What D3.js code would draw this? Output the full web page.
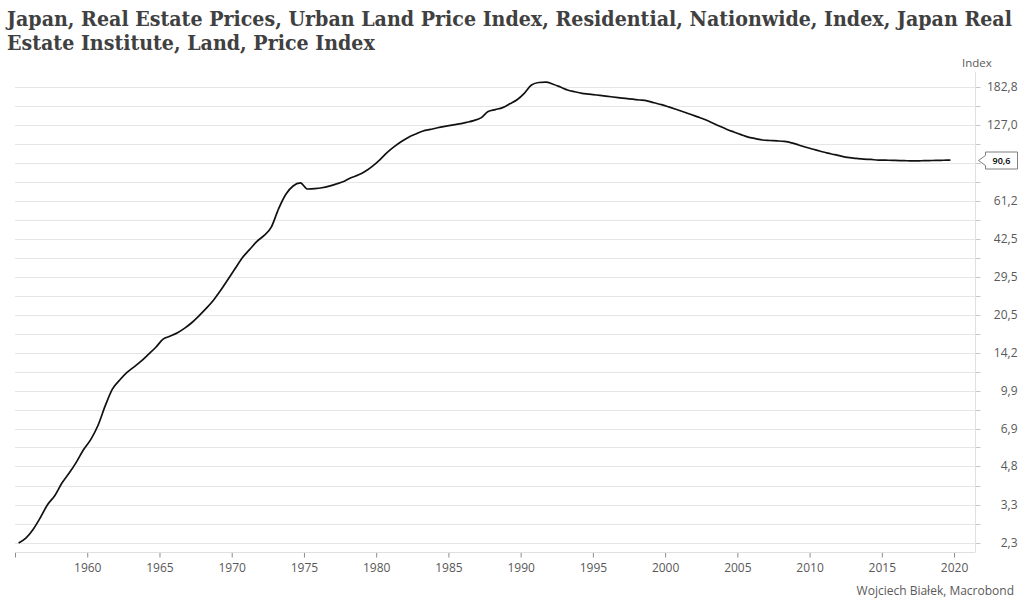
<!DOCTYPE html>
<html><head><meta charset="utf-8">
<script src="https://cdn.jsdelivr.net/npm/d3@7"></script>
<style>body{margin:0;background:#fff;} svg{display:block;}</style>
</head><body><svg id="c" width="1024" height="608"></svg>
<script>
const titleLines = [
  "Japan, Real Estate Prices, Urban Land Price Index, Residential, Nationwide, Index, Japan Real",
  "Estate Institute, Land, Price Index"
];
const dates = [
"1955-03","1955-09","1956-03","1956-09","1957-03","1957-09","1958-03","1958-09","1959-03","1959-09",
"1960-03","1960-09","1961-03","1961-09","1962-03","1962-09","1963-03","1963-09","1964-03","1964-09",
"1965-03","1965-09","1966-03","1966-09","1967-03","1967-09","1968-03","1968-09","1969-03","1969-09",
"1970-03","1970-09","1971-03","1971-09","1972-03","1972-09","1973-03","1973-09","1974-03","1974-09",
"1975-03","1975-09","1976-03","1976-09","1977-03","1977-09","1978-03","1978-09","1979-03","1979-09",
"1980-03","1980-09","1981-03","1981-09","1982-03","1982-09","1983-03","1983-09","1984-03","1984-09",
"1985-03","1985-09","1986-03","1986-09","1987-03","1987-09","1988-03","1988-09","1989-03","1989-09",
"1990-03","1990-09","1991-03","1991-09","1992-03","1992-09","1993-03","1993-09","1994-03","1994-09",
"1995-03","1995-09","1996-03","1996-09","1997-03","1997-09","1998-03","1998-09","1999-03","1999-09",
"2000-03","2000-09","2001-03","2001-09","2002-03","2002-09","2003-03","2003-09","2004-03","2004-09",
"2005-03","2005-09","2006-03","2006-09","2007-03","2007-09","2008-03","2008-09","2009-03","2009-09",
"2010-03","2010-09","2011-03","2011-09","2012-03","2012-09","2013-03","2013-09","2014-03","2014-09",
"2015-03","2015-09","2016-03","2016-09","2017-03","2017-09","2018-03","2018-09","2019-03","2019-09"
];
const values = [
2.30,2.41,2.62,2.93,3.32,3.62,4.09,4.50,5.00,5.64,
6.22,7.12,8.59,10.09,10.99,11.82,12.47,13.19,14.08,15.05,
16.27,16.75,17.29,18.08,19.08,20.39,21.89,23.70,26.04,28.88,
32.1,35.6,38.5,41.6,44.0,47.8,56.9,65.3,70.7,72.8,
68.7,68.9,69.5,70.6,72.1,73.8,76.5,78.5,81.4,85.6,
90.9,97.4,103.1,108.3,113.0,116.5,119.9,121.7,123.6,125.3,
126.9,128.3,130.2,132.4,135.9,144.5,147.2,150.0,155.6,161.8,
172.1,186.4,190.9,191.6,187.8,182.8,177.6,174.6,172.1,170.8,
169.3,168.0,166.5,165.1,163.9,162.6,161.4,160.0,157.1,154.3,
151.0,147.6,144.2,140.7,137.2,133.8,129.8,125.7,121.9,118.7,
115.7,113.0,111.4,109.9,109.4,109.0,108.4,107.0,104.8,102.5,
100.6,98.7,96.9,95.5,93.9,92.8,92.1,91.5,91.2,90.7,
90.6,90.4,90.2,90.1,90.0,90.1,90.2,90.4,90.5,90.6
];
const yTickValues = [2.3, 3.3, 4.8, 6.9, 9.9, 14.2, 20.5, 29.5, 42.5, 61.2, 88.1, 127.0, 182.8];
const hiddenTickLabels = [88.1];
const xTickYears = [1955, 1960, 1965, 1970, 1975, 1980, 1985, 1990, 1995, 2000, 2005, 2010, 2015, 2020];
const unlabeledYears = [1955];
const unitLabel = "Index";
const sourceText = "Wojciech Białek, Macrobond";

const svg = d3.select("#c");
const plotL = 15, plotR = 975, plotTop = 72, axisY = 552;

const toDecimal = s => { const [yy, mm] = s.split("-").map(Number); return yy + mm / 12; };
const data = dates.map((d, i) => ({ t: toDecimal(d), v: values[i] }));

const x = d3.scaleLinear().domain([1955, 2021.45]).range([plotL, plotR]);
const y = d3.scaleLog().domain([2.3, 182.8]).range([543, 87]);

const minor = [];
for (let i = 0; i < yTickValues.length - 1; i++) minor.push(Math.sqrt(yTickValues[i] * yTickValues[i + 1]));
const allLevels = yTickValues.concat(minor).sort((a, b) => a - b);

svg.append("g").selectAll("line").data(allLevels).join("line")
  .attr("x1", plotL).attr("x2", plotR)
  .attr("y1", d => Math.round(y(d)) + 0.5).attr("y2", d => Math.round(y(d)) + 0.5)
  .attr("stroke", "#e6e6e6").attr("stroke-width", 1);

const fmt = d => d3.format(".1f")(d).replace(".", ",");
const yAxis = d3.axisRight(y).tickValues(allLevels).tickSize(5)
  .tickFormat(d => (yTickValues.includes(d) && !hiddenTickLabels.includes(d)) ? fmt(d) : "");
const gy = svg.append("g").attr("transform", `translate(${plotR + 0.5},0)`).call(yAxis);
gy.select(".domain").remove();
gy.selectAll(".tick").attr("transform", d => `translate(0,${Math.round(y(d)) + 0.5})`);
gy.selectAll(".tick line").attr("stroke", "#c8c8c8");
gy.selectAll(".tick text").attr("x", 42).attr("text-anchor", "end")
  .attr("fill", "#595959").style("font-family", "'Open Sans', 'Noto Sans', sans-serif").style("font-size", "12px");
svg.append("line").attr("x1", plotR + 0.5).attr("x2", plotR + 0.5).attr("y1", plotTop).attr("y2", axisY)
  .attr("stroke", "#e0e0e0");

const xAxis = d3.axisBottom(x).tickValues(xTickYears).tickSize(5)
  .tickFormat(d => unlabeledYears.includes(d) ? "" : String(d));
const gx = svg.append("g").attr("transform", `translate(0,${axisY + 0.5})`).call(xAxis);
gx.select(".domain").remove();
gx.selectAll(".tick line").attr("stroke", "#8c8c8c");
gx.selectAll(".tick text").attr("y", 11).attr("fill", "#595959")
  .style("font-family", "'Open Sans', 'Noto Sans', sans-serif").style("font-size", "12px");
svg.append("line").attr("x1", plotL).attr("x2", plotR + 0.5).attr("y1", axisY + 0.5).attr("y2", axisY + 0.5)
  .attr("stroke", "#e0e0e0");

const line = d3.line().x(d => x(d.t)).y(d => y(d.v)).curve(d3.curveMonotoneX);
svg.append("path").datum(data).attr("d", line)
  .attr("fill", "none").attr("stroke", "#111").attr("stroke-width", 1.7).attr("stroke-linejoin", "round");

const last = data[data.length - 1];
const ly = Math.round(y(last.v)) + 0.5;
const bx0 = 985.5, bx1 = 1017.5, bh = 17;
svg.append("path")
  .attr("d", `M${plotR + 3.5},${ly} L${bx0},${ly - 5} L${bx0},${ly - bh / 2} L${bx1},${ly - bh / 2} L${bx1},${ly + bh / 2} L${bx0},${ly + bh / 2} L${bx0},${ly + 5} Z`)
  .attr("fill", "#fff").attr("stroke", "#7f7f7f").attr("stroke-width", 1);
svg.append("text").attr("x", (bx0 + bx1) / 2).attr("y", ly + 3).attr("text-anchor", "middle")
  .style("font-family", "'Open Sans', sans-serif").style("font-size", "9px").style("font-weight", "600")
  .attr("fill", "#000").text(fmt(last.v));

svg.append("text").attr("x", 962).attr("y", 67).attr("fill", "#595959")
  .style("font-family", "'Open Sans', 'Noto Sans', sans-serif").style("font-size", "11.5px").text(unitLabel);

svg.append("text").attr("x", 1014).attr("y", 595).attr("text-anchor", "end").attr("fill", "#595959")
  .style("font-family", "'Open Sans', 'Noto Sans', sans-serif").style("font-size", "12px").text(sourceText);

// title: horizontally scaled so line 1 spans the reference width
const tg = svg.append("g");
const t1 = tg.append("text").attr("x", 0).attr("y", 0).text(titleLines[0]);
const t2 = tg.append("text").attr("x", 0).attr("y", 24).text(titleLines[1]);
tg.selectAll("text").attr("fill", "#404040")
  .style("font-family", "'DejaVu Serif', serif").style("font-weight", "bold").style("font-size", "20px");
const w1 = t1.node().getComputedTextLength();
const k = 1006 / w1;
tg.attr("transform", `translate(7,26) scale(${k.toFixed(4)},1)`);
</script></body></html>
